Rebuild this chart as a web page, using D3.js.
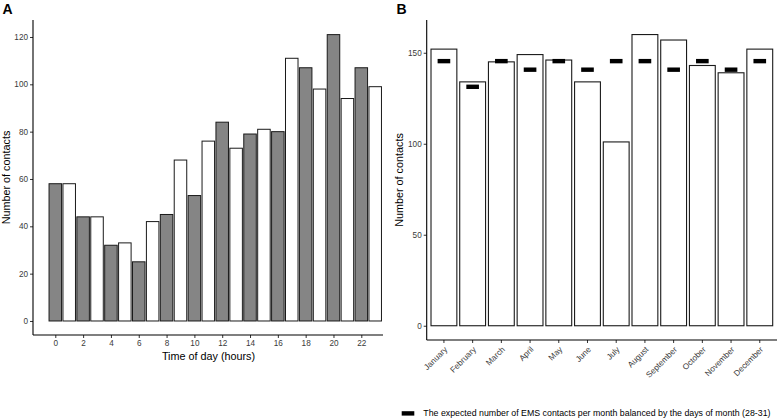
<!DOCTYPE html>
<html>
<head>
<meta charset="utf-8">
<script src="https://cdn.jsdelivr.net/npm/d3@7"></script>
<style>
  html, body { margin: 0; padding: 0; background: #fff; }
  svg { display: block; font-family: "Liberation Sans", Arial, sans-serif; }
</style>
</head>
<body>
<svg id="chart" width="778" height="419"></svg>
<script>
// ---------- Data ----------
const hours = d3.range(0, 24);
const hourCounts = [58, 58, 44, 44, 32, 33, 25, 42, 45, 68, 53, 76, 84, 73, 79, 81, 80, 111, 107, 98, 121, 94, 107, 99];
const hourTicks = [0, 2, 4, 6, 8, 10, 12, 14, 16, 18, 20, 22];
const countTicksA = [0, 20, 40, 60, 80, 100, 120];

const months = ["January", "February", "March", "April", "May", "June", "July", "August", "September", "October", "November", "December"];
const monthCounts = [152, 134, 145, 149, 146, 134, 101, 160, 157, 143, 139, 152];
const expectedCounts = [145.4, 131.3, 145.4, 140.7, 145.4, 140.7, 145.4, 145.4, 140.7, 145.4, 140.7, 145.4];
const countTicksB = [0, 50, 100, 150];
const legendLabel = "The expected number of EMS contacts per month balanced by the days of month (28-31)";

const svg = d3.select("#chart");
const tickColor = "#3a3a3a";

// ---------- Panel A ----------
const A = { left: 33, right: 383, top: 20, bottom: 335 };
const xA = d3.scaleLinear().domain([0, 22]).range([55.3, 361.3]);
const yA = d3.scaleLinear().domain([-6.05, 127.05]).range([335.3, 20.3]);
const gA = svg.append("g");

gA.selectAll("rect.bar").data(hours).join("rect")
  .attr("class", "bar")
  .attr("x", d => xA(d - 0.45))
  .attr("width", d => xA(d + 0.45) - xA(d - 0.45))
  .attr("y", (d, i) => yA(hourCounts[i]))
  .attr("height", (d, i) => yA(0) - yA(hourCounts[i]))
  .attr("fill", d => d % 2 === 0 ? "#858585" : "#ffffff")
  .attr("stroke", "#1a1a1a")
  .attr("stroke-width", 1);

const axAY = d3.axisLeft(yA).tickValues(countTicksA).tickSize(3).tickPadding(2);
const gAY = gA.append("g").attr("transform", `translate(${A.left},0)`).call(axAY);
gAY.select(".domain").remove();
gAY.selectAll(".tick line").attr("stroke", "#333");
gAY.selectAll(".tick text").attr("fill", tickColor).style("font-size", "8.2px").style("font-family", "Liberation Sans, Arial, sans-serif");

const axAX = d3.axisBottom(xA).tickValues(hourTicks).tickSize(3).tickPadding(2);
const gAX = gA.append("g").attr("transform", `translate(0,${A.bottom})`).call(axAX);
gAX.select(".domain").remove();
gAX.selectAll(".tick line").attr("stroke", "#333");
gAX.selectAll(".tick text").attr("fill", tickColor).style("font-size", "8.2px").style("font-family", "Liberation Sans, Arial, sans-serif");

gA.append("line").attr("x1", A.left).attr("x2", A.left).attr("y1", A.top).attr("y2", A.bottom).attr("stroke", "#000").attr("stroke-width", 1.1);
gA.append("line").attr("x1", A.left).attr("x2", A.right).attr("y1", A.bottom).attr("y2", A.bottom).attr("stroke", "#000").attr("stroke-width", 1.1);

gA.append("text").attr("x", 208.5).attr("y", 360).attr("text-anchor", "middle")
  .style("font-size", "10.8px").text("Time of day (hours)");
gA.append("text").attr("transform", `translate(9.5,${(A.top + A.bottom) / 2}) rotate(-90)`)
  .attr("text-anchor", "middle").style("font-size", "10.8px").text("Number of contacts");
gA.append("text").attr("x", 2.5).attr("y", 14).style("font-size", "14px").style("font-weight", "bold").text("A");

// ---------- Panel B ----------
const B = { left: 426.7, right: 777, top: 20, bottom: 340 };
const xB = d3.scaleBand().domain(months).range([B.left, B.right]).paddingInner(0.1).paddingOuter(0.15);
const yB = d3.scaleLinear().domain([-8, 168]).range([340.3, 20.0]);
const gB = svg.append("g");

gB.selectAll("rect.bar").data(months).join("rect")
  .attr("class", "bar")
  .attr("x", d => xB(d))
  .attr("width", xB.bandwidth())
  .attr("y", (d, i) => yB(monthCounts[i]))
  .attr("height", (d, i) => yB(0) - yB(monthCounts[i]))
  .attr("fill", "#ffffff")
  .attr("stroke", "#1a1a1a")
  .attr("stroke-width", 1.1);

const stepB = xB.step();
gB.selectAll("rect.exp").data(months).join("rect")
  .attr("class", "exp")
  .attr("x", d => xB(d) + xB.bandwidth() / 2 - stepB * 0.22)
  .attr("width", stepB * 0.44)
  .attr("y", (d, i) => yB(expectedCounts[i]) - 2.2)
  .attr("height", 4.4)
  .attr("fill", "#000");

const axBY = d3.axisLeft(yB).tickValues(countTicksB).tickSize(3).tickPadding(2);
const gBY = gB.append("g").attr("transform", `translate(${B.left},0)`).call(axBY);
gBY.select(".domain").remove();
gBY.selectAll(".tick line").attr("stroke", "#333");
gBY.selectAll(".tick text").attr("fill", tickColor).style("font-size", "8.2px").style("font-family", "Liberation Sans, Arial, sans-serif");

const axBX = d3.axisBottom(xB).tickSize(3).tickPadding(2);
const gBX = gB.append("g").attr("transform", `translate(0,${B.bottom})`).call(axBX);
gBX.select(".domain").remove();
gBX.selectAll(".tick line").attr("stroke", "#333");
gBX.selectAll(".tick text")
  .attr("fill", tickColor).style("font-size", "8.2px").style("font-family", "Liberation Sans, Arial, sans-serif")
  .attr("text-anchor", "end")
  .attr("dy", null).attr("y", null)
  .attr("transform", "translate(4,10) rotate(-45)");

gB.append("line").attr("x1", B.left).attr("x2", B.left).attr("y1", B.top).attr("y2", B.bottom).attr("stroke", "#000").attr("stroke-width", 1.1);
gB.append("line").attr("x1", B.left).attr("x2", B.right).attr("y1", B.bottom).attr("y2", B.bottom).attr("stroke", "#000").attr("stroke-width", 1.1);

gB.append("text").attr("transform", `translate(403,${(B.top + B.bottom) / 2}) rotate(-90)`)
  .attr("text-anchor", "middle").style("font-size", "10.8px").text("Number of contacts");
gB.append("text").attr("x", 396.5).attr("y", 14).style("font-size", "14px").style("font-weight", "bold").text("B");

// Legend
gB.append("rect").attr("x", 401.7).attr("y", 411.2).attr("width", 12.6).attr("height", 4.4).attr("fill", "#000");
gB.append("text").attr("x", 423.3).attr("y", 416.3).style("font-size", "8.8px").attr("fill", "#000").text(legendLabel);
</script>
</body>
</html>
